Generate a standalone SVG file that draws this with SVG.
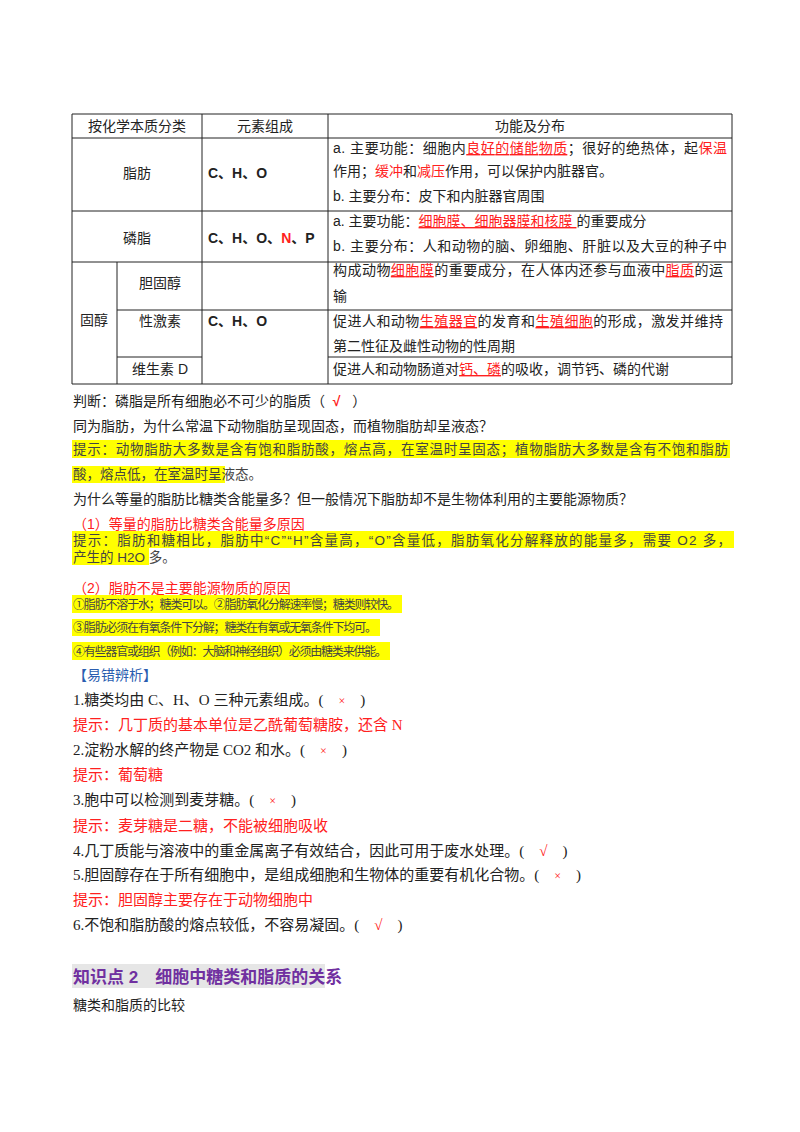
<svg xmlns="http://www.w3.org/2000/svg" width="800" height="1132" viewBox="0 0 800 1132">
<style>
text{font-family:"Liberation Sans","Noto Sans CJK SC",sans-serif;font-size:14px;fill:#222;white-space:pre}
.s{font-family:"Liberation Serif","Noto Sans CJK SC",serif;font-size:15px}
.r{fill:#ff2020}
.x{fill:#ff2020;font-size:12px}
.u{fill:#ff2020;text-decoration:underline}
.h{fill:#444;font-size:13.5px}
.h2{fill:#444;font-size:12px}
.hl{fill:#ffff00}
.b{fill:#2a5db0}
.k{font-size:17px;font-weight:bold;fill:#7030a0}
line{stroke:#222;stroke-width:1}
</style>
<rect width="800" height="1132" fill="#fff"/>
<g id="table">
<line x1="72" y1="114" x2="732" y2="114"/>
<line x1="72" y1="138" x2="732" y2="138"/>
<line x1="72" y1="211" x2="732" y2="211"/>
<line x1="72" y1="262" x2="732" y2="262"/>
<line x1="117" y1="310" x2="732" y2="310"/>
<line x1="117" y1="357" x2="202" y2="357"/>
<line x1="328" y1="357" x2="732" y2="357"/>
<line x1="72" y1="384" x2="732" y2="384"/>
<line x1="72" y1="114" x2="72" y2="384"/>
<line x1="117" y1="262" x2="117" y2="384"/>
<line x1="202" y1="114" x2="202" y2="384"/>
<line x1="328" y1="114" x2="328" y2="384"/>
<line x1="732" y1="114" x2="732" y2="384"/>
<text x="137" y="131" text-anchor="middle">按化学本质分类</text>
<text x="265" y="131" text-anchor="middle">元素组成</text>
<text x="530" y="131" text-anchor="middle">功能及分布</text>
<text x="137" y="178" text-anchor="middle">脂肪</text>
<text x="208" y="178" font-weight="bold">C、H、O</text>
<text x="333" y="153" textLength="394">a. 主要功能：细胞内<tspan class="u">良好的储能物质</tspan>；很好的绝热体，起<tspan class="r">保温</tspan></text>
<text x="333" y="176">作用；<tspan class="r">缓冲</tspan>和<tspan class="r">减压</tspan>作用，可以保护内脏器官。</text>
<text x="333" y="201">b. 主要分布：皮下和内脏器官周围</text>
<text x="137" y="243" text-anchor="middle">磷脂</text>
<text x="208" y="243" font-weight="bold">C、H、O、<tspan class="r">N</tspan>、P</text>
<text x="333" y="226">a. 主要功能：<tspan class="u">细胞膜、细胞器膜和核膜 </tspan>的重要成分</text>
<text x="333" y="251" textLength="394">b. 主要分布：人和动物的脑、卵细胞、肝脏以及大豆的种子中</text>
<text x="94" y="325" text-anchor="middle">固醇</text>
<text x="160" y="288" text-anchor="middle">胆固醇</text>
<text x="160" y="326" text-anchor="middle">性激素</text>
<text x="160" y="374" text-anchor="middle">维生素 D</text>
<text x="208" y="326" font-weight="bold">C、H、O</text>
<text x="333" y="275" textLength="390">构成动物<tspan class="u">细胞膜</tspan>的重要成分，在人体内还参与血液中<tspan class="u">脂质</tspan>的运</text>
<text x="333" y="301">输</text>
<text x="333" y="326" textLength="390">促进人和动物<tspan class="u">生殖器官</tspan>的发育和<tspan class="u">生殖细胞</tspan>的形成，激发并维持</text>
<text x="333" y="351">第二性征及雌性动物的性周期</text>
<text x="333" y="374">促进人和动物肠道对<tspan class="u">钙、磷</tspan>的吸收，调节钙、磷的代谢</text>
</g>
<g id="body">
<text x="73" y="406">判断：磷脂是所有细胞必不可少的脂质（  <tspan class="r" font-weight="bold">√</tspan>   ）</text>
<text x="73" y="431">同为脂肪，为什么常温下动物脂肪呈现固态，而植物脂肪却呈液态？</text>
<rect class="hl" x="72" y="440" width="658" height="18"/>
<rect class="hl" x="72" y="466" width="153" height="17"/>
<text class="h" x="73" y="454" textLength="655">提示：动物脂肪大多数是含有饱和脂肪酸，熔点高，在室温时呈固态；植物脂肪大多数是含有不饱和脂肪</text>
<text class="h" x="73" y="479">酸，熔点低，在室温时呈液态。</text>
<text x="73" y="504">为什么等量的脂肪比糖类含能量多？但一般情况下脂肪却不是生物体利用的主要能源物质？</text>
<text class="r" x="73" y="529">（1）等量的脂肪比糖类含能量多原因</text>
<rect class="hl" x="72" y="531" width="662" height="17"/>
<rect class="hl" x="72" y="548" width="77" height="17"/>
<text class="h" x="73" y="545" textLength="658">提示：脂肪和糖相比，脂肪中“C”“H”含量高，“O”含量低，脂肪氧化分解释放的能量多，需要 O2 多，</text>
<text class="h" x="73" y="562">产生的 H2O 多。</text>
<text class="r" x="73" y="593">（2）脂肪不是主要能源物质的原因</text>
<rect class="hl" x="72" y="595" width="330" height="18"/>
<rect class="hl" x="72" y="619" width="308" height="17"/>
<rect class="hl" x="72" y="642" width="318" height="18"/>
<text class="h2" x="73" y="609" textLength="326">①脂肪不溶于水；糖类可以。②脂肪氧化分解速率慢；糖类则较快。</text>
<text class="h2" x="73" y="632" textLength="304">③脂肪必须在有氧条件下分解；糖类在有氧或无氧条件下均可。</text>
<text class="h2" x="73" y="656" textLength="314">④有些器官或组织（例如：大脑和神经组织）必须由糖类来供能。</text>
<text class="b" x="73" y="680">【易错辨析】</text>
<text class="s" x="73" y="705">1.糖类均由 C、H、O 三种元素组成。(    <tspan class="x">×</tspan>    )</text>
<text class="s r" x="73" y="730">提示：几丁质的基本单位是乙酰葡萄糖胺，还含 N</text>
<text class="s" x="73" y="755">2.淀粉水解的终产物是 CO2 和水。(    <tspan class="x">×</tspan>    )</text>
<text class="s r" x="73" y="780">提示：葡萄糖</text>
<text class="s" x="73" y="805">3.胞中可以检测到麦芽糖。(    <tspan class="x">×</tspan>    )</text>
<text class="s r" x="73" y="831">提示：麦芽糖是二糖，不能被细胞吸收</text>
<text class="s" x="73" y="856">4.几丁质能与溶液中的重金属离子有效结合，因此可用于废水处理。(    <tspan class="r">√</tspan>    )</text>
<text class="s" x="73" y="880">5.胆固醇存在于所有细胞中，是组成细胞和生物体的重要有机化合物。(    <tspan class="x">×</tspan>    )</text>
<text class="s r" x="73" y="905">提示：胆固醇主要存在于动物细胞中</text>
<text class="s" x="73" y="930">6.不饱和脂肪酸的熔点较低，不容易凝固。(    <tspan class="r">√</tspan>    )</text>
<rect x="72" y="964" width="253" height="24" fill="#e6e6e6"/>
<text class="k" x="73" y="983">知识点 2　细胞中糖类和脂质的关系</text>
<text x="73" y="1010">糖类和脂质的比较</text>
</g>
</svg>
